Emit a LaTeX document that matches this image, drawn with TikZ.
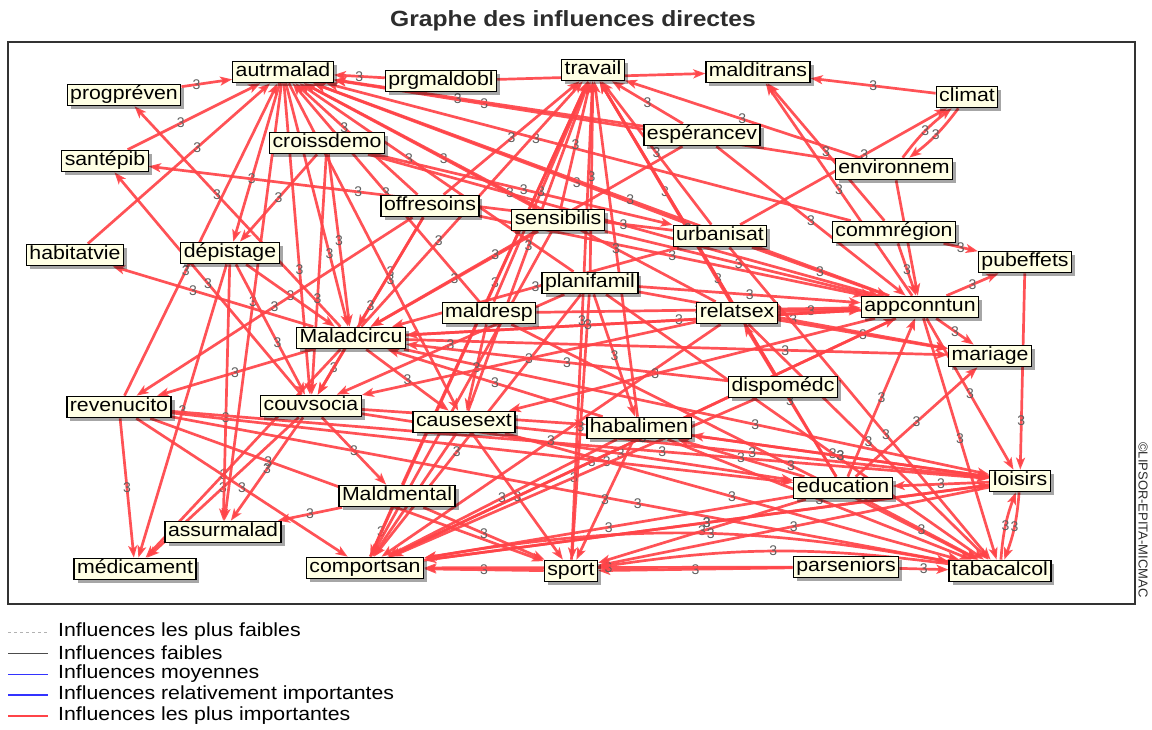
\documentclass[tikz,border=0pt]{standalone}
\usepackage{fontspec}
\setmainfont{Liberation Sans}
\usetikzlibrary{arrows.meta,shadows}
\pgfdeclarelayer{bg}
\pgfdeclarelayer{edges}
\pgfsetlayers{bg,edges,main}
\definecolor{edgered}{RGB}{255,68,72}
\definecolor{cream}{RGB}{255,255,228}
\definecolor{labgray}{RGB}{95,95,95}
\definecolor{titlegray}{RGB}{45,45,45}
\newcommand\lb[1]{\scalebox{1.12}[1]{#1}}
\newcommand\edg[3][0.5]{\draw[ed] (#2) -- node[lab,pos=#1]{3} (#3);}
\newcommand\edgb[4][0.5]{\draw[ed] (#2) to[bend left=#4] node[lab,pos=#1]{3} (#3);}
\tikzset{
  nd/.style={draw=black,line width=1.2pt,fill=cream,inner xsep=3pt,inner ysep=2pt,
    text height=13.5pt,text depth=4pt,font=\fontsize{19}{21}\selectfont,
    drop shadow={shadow xshift=3.5pt,shadow yshift=-3.5pt,fill=black,opacity=0.35}},
  ed/.style={draw=edgered,line width=2.7pt,-{Stealth[length=12pt,width=9pt,inset=3pt]},opacity=0.92},
  lab/.style={text=labgray,font=\fontsize{14}{15}\selectfont,inner sep=1pt,opacity=1},
  legtxt/.style={anchor=west,font=\fontsize{19}{21}\selectfont,text=black,inner sep=0pt}
}
\begin{document}
\begin{tikzpicture}[x=1pt,y=-1pt]
\useasboundingbox (0,0) rectangle (1152,729);
\begin{pgfonlayer}{bg}
\fill[white] (0,0) rectangle (1152,729);
\end{pgfonlayer}
\node[font=\bfseries\fontsize{22}{24}\selectfont,text=titlegray] (title) at (573,21) {\scalebox{1.12}[1]{Graphe des influences directes}};
\draw[line width=1.5pt,draw=black!80] (8,42) rectangle (1135,604);
\node[rotate=-90,font=\fontsize{13}{14}\selectfont,text=titlegray] (copy) at (1143,520) {©LIPSOR-EPITA-MICMAC};

% nodes
\node[nd] (autrmalad)  at (283,72)  {\lb{autrmalad}};
\node[nd] (prgmaldobl) at (441,81)  {\lb{prgmaldobl}};
\node[nd] (travail)    at (593,70)  {\lb{travail}};
\node[nd] (malditrans) at (758,72)  {\lb{malditrans}};
\node[nd] (climat)     at (967,97)  {\lb{climat}};
\node[nd] (progpreven) at (124,95)  {\lb{progpréven}};
\node[nd] (croissdemo) at (327,143) {\lb{croissdemo}};
\node[nd] (esperancev) at (702,135) {\lb{espérancev}};
\node[nd] (santepib)   at (105,161) {\lb{santépib}};
\node[nd] (environnem) at (894,169) {\lb{environnem}};
\node[nd] (offresoins) at (430,206) {\lb{offresoins}};
\node[nd] (sensibilis) at (558,220) {\lb{sensibilis}};
\node[nd] (urbanisat)  at (720,236) {\lb{urbanisat}};
\node[nd] (commregion) at (894,232) {\lb{commrégion}};
\node[nd] (habitatvie) at (75,255)  {\lb{habitatvie}};
\node[nd] (depistage)  at (230,253) {\lb{dépistage}};
\node[nd] (pubeffets)  at (1025,262) {\lb{pubeffets}};
\node[nd] (planifamil) at (590,283) {\lb{planifamil}};
\node[nd] (maldresp)   at (489,313) {\lb{maldresp}};
\node[nd] (relatsex)   at (737,313) {\lb{relatsex}};
\node[nd] (appconntun) at (920,307) {\lb{appconntun}};
\node[nd] (Maladcircu) at (351,338) {\lb{Maladcircu}};
\node[nd] (mariage)    at (990,356) {\lb{mariage}};
\node[nd] (dispomedc)  at (783,387) {\lb{dispomédc}};
\node[nd] (revenucito) at (119,407) {\lb{revenucito}};
\node[nd] (couvsocia)  at (311,406) {\lb{couvsocia}};
\node[nd] (causesext)  at (464,422) {\lb{causesext}};
\node[nd] (habalimen)  at (639,428) {\lb{habalimen}};
\node[nd] (Maldmental) at (397,496) {\lb{Maldmental}};
\node[nd] (education)  at (843,488) {\lb{education}};
\node[nd] (loisirs)    at (1020,481) {\lb{loisirs}};
\node[nd] (assurmalad) at (223,532) {\lb{assurmalad}};
\node[nd] (medicament) at (135,569) {\lb{médicament}};
\node[nd] (comportsan) at (365,568) {\lb{comportsan}};
\node[nd] (sport)      at (571,571) {\lb{sport}};
\node[nd] (parseniors) at (846,567) {\lb{parseniors}};
\node[nd] (tabacalcol) at (1000,571) {\lb{tabacalcol}};

\begin{pgfonlayer}{edges}
% into autrmalad
\edg[0.3]{progpreven}{autrmalad}
\edg{prgmaldobl}{autrmalad}
\edg[0.4]{santepib}{autrmalad}
\edg[0.6]{habitatvie}{autrmalad}
\edg[0.4]{revenucito}{autrmalad}
\edg[0.6]{offresoins}{autrmalad}
\edg[0.4]{sensibilis}{autrmalad}
\edg[0.3]{urbanisat}{autrmalad}
\edg[0.7]{environnem}{autrmalad}
\edg[0.6]{esperancev}{autrmalad}
\edg[0.45]{appconntun}{autrmalad}
\edg[0.5]{relatsex}{autrmalad}
\edg[0.6]{planifamil}{autrmalad}
\edg[0.5]{maldresp}{autrmalad}
\edg[0.6]{commregion}{autrmalad}
\edg[0.6]{autrmalad}{depistage}
\edg[0.7]{autrmalad}{Maladcircu}
\edg[0.6]{autrmalad}{couvsocia}
\edg[0.5]{autrmalad}{assurmalad}
\edg[0.6]{autrmalad}{causesext}
% left side
\edg[0.6]{Maladcircu}{progpreven}
\edg[0.5]{couvsocia}{santepib}
\edg[0.6]{urbanisat}{santepib}
\edg[0.6]{Maladcircu}{habitatvie}
\edg[0.5]{croissdemo}{depistage}
\edg[0.5]{depistage}{Maladcircu}
\edg[0.5]{croissdemo}{Maladcircu}
\edg[0.5]{offresoins}{Maladcircu}
\edg[0.6]{croissdemo}{couvsocia}
\edg[0.4]{Maladcircu}{couvsocia}
\edg[0.6]{depistage}{couvsocia}
\edg[0.5]{depistage}{medicament}
\edg[0.5]{revenucito}{medicament}
\edg[0.5]{couvsocia}{medicament}
\edg[0.6]{Maladcircu}{medicament}
\edg[0.5]{couvsocia}{assurmalad}
\edg[0.6]{depistage}{assurmalad}
\edg[0.5]{Maldmental}{assurmalad}
\edg[0.5]{revenucito}{comportsan}
\edg[0.5]{couvsocia}{Maldmental}
\edg[0.5]{Maldmental}{comportsan}
\edg[0.3]{revenucito}{sport}
\edg[0.6]{revenucito}{loisirs}
\edg[0.7]{revenucito}{education}
\edg[0.6]{revenucito}{tabacalcol}
\edg[0.5]{couvsocia}{habalimen}
\edg[0.6]{couvsocia}{education}
% centre
\edg[0.35]{Maladcircu}{travail}
\edg[0.6]{Maladcircu}{appconntun}
\edg[0.7]{Maladcircu}{mariage}
\edg[0.5]{Maladcircu}{causesext}
\edg[0.6]{Maladcircu}{loisirs}
\edg[0.5]{Maladcircu}{revenucito}
\edg[0.5]{offresoins}{travail}
\edg[0.5]{offresoins}{appconntun}
\edg[0.5]{offresoins}{couvsocia}
\edg[0.5]{offresoins}{revenucito}
\edg[0.5]{sensibilis}{travail}
\edg[0.5]{sensibilis}{appconntun}
\edg[0.5]{sensibilis}{Maladcircu}
\edg[0.6]{sensibilis}{comportsan}
\edg[0.5]{croissdemo}{appconntun}
\edg[0.5]{croissdemo}{urbanisat}
\edg[0.5]{maldresp}{travail}
\edg[0.5]{maldresp}{appconntun}
\edg[0.5]{maldresp}{causesext}
\edg[0.6]{maldresp}{tabacalcol}
\edg[0.5]{planifamil}{travail}
\edg[0.5]{planifamil}{appconntun}
\edg[0.5]{planifamil}{mariage}
\edg[0.5]{planifamil}{sport}
\edg[0.5]{planifamil}{habalimen}
\edg[0.6]{planifamil}{comportsan}
\edg[0.6]{planifamil}{tabacalcol}
\edg[0.5]{planifamil}{couvsocia}
\edg[0.5]{urbanisat}{travail}
\edg[0.5]{urbanisat}{appconntun}
\edg[0.6]{urbanisat}{climat}
\edg[0.5]{urbanisat}{Maladcircu}
\edg[0.6]{urbanisat}{tabacalcol}
\edg[0.5]{esperancev}{travail}
\edg[0.5]{esperancev}{appconntun}
\edg[0.6]{esperancev}{Maladcircu}
\edg[0.5]{environnem}{travail}
\edg[0.5]{environnem}{appconntun}
\edgb[0.5]{environnem}{climat}{8}
\edgb[0.5]{climat}{environnem}{8}
\edg[0.5]{climat}{malditrans}
\edg[0.5]{prgmaldobl}{malditrans}
\edg[0.5]{commregion}{appconntun}
\edg[0.5]{commregion}{pubeffets}
\edg[0.5]{commregion}{malditrans}
\edg[0.5]{appconntun}{malditrans}
\edg[0.5]{relatsex}{travail}
\edg[0.4]{relatsex}{appconntun}
\edg[0.5]{relatsex}{mariage}
\edg[0.5]{relatsex}{couvsocia}
\edg[0.5]{relatsex}{tabacalcol}
\edg[0.5]{relatsex}{comportsan}
\edg[0.5]{appconntun}{pubeffets}
\edg[0.5]{appconntun}{mariage}
\edg[0.5]{appconntun}{loisirs}
\edg[0.5]{appconntun}{tabacalcol}
\edg[0.6]{appconntun}{comportsan}
\edg[0.6]{appconntun}{causesext}
\edg[0.6]{appconntun}{Maladcircu}
\edg[0.75]{pubeffets}{loisirs}
\edg[0.5]{education}{appconntun}
\edg[0.5]{education}{mariage}
\edg[0.5]{education}{travail}
\edg[0.5]{education}{habalimen}
\edg[0.5]{education}{comportsan}
\edg[0.5]{education}{sport}
\edg[0.5]{education}{tabacalcol}
\edg[0.5]{education}{relatsex}
\edg[0.5]{dispomedc}{travail}
\edg[0.5]{dispomedc}{Maladcircu}
\edg[0.5]{dispomedc}{comportsan}
\edg[0.5]{causesext}{travail}
\edg[0.5]{causesext}{sport}
\edg[0.5]{causesext}{loisirs}
\edg[0.5]{causesext}{comportsan}
\edg[0.5]{causesext}{tabacalcol}
\edg[0.5]{habalimen}{travail}
\edg[0.5]{habalimen}{sport}
\edg[0.5]{habalimen}{comportsan}
\edg[0.5]{habalimen}{tabacalcol}
\edg[0.5]{habalimen}{loisirs}
\edg[0.5]{habalimen}{Maladcircu}
\edg[0.5]{loisirs}{habalimen}
\edg[0.5]{loisirs}{comportsan}
\edg[0.5]{loisirs}{sport}
\edg[0.5]{loisirs}{education}
\edgb[0.5]{loisirs}{tabacalcol}{8}
\edgb[0.5]{tabacalcol}{loisirs}{8}
\edg[0.5]{sport}{travail}
\edg[0.5]{sport}{comportsan}
\edg[0.5]{parseniors}{sport}
\edg[0.5]{parseniors}{comportsan}
\edg[0.5]{parseniors}{tabacalcol}
\edgb[0.5]{tabacalcol}{sport}{-8}
\edgb[0.45]{tabacalcol}{comportsan}{-10}
\edg[0.5]{Maldmental}{sport}
\edg[0.5]{Maldmental}{travail}
\edg[0.5]{comportsan}{travail}
\edg[0.5]{comportsan}{appconntun}
\edg[0.5]{comportsan}{loisirs}
\end{pgfonlayer}

% legend
\coordinate (l1a) at (8,632);  \coordinate (l1b) at (48,632);
\coordinate (l2a) at (8,653);  \coordinate (l2b) at (48,653);
\coordinate (l3a) at (8,674);  \coordinate (l3b) at (48,674);
\coordinate (l4a) at (8,695);  \coordinate (l4b) at (48,695);
\coordinate (l5a) at (8,716);  \coordinate (l5b) at (48,716);
\draw[black!30,line width=0.8pt,dash pattern=on 3pt off 3pt] (l1a) -- (l1b);
\draw[black!70,line width=1pt] (l2a) -- (l2b);
\draw[blue!80,line width=1pt] (l3a) -- (l3b);
\draw[blue!80,line width=2.2pt] (l4a) -- (l4b);
\draw[edgered,line width=2.5pt] (l5a) -- (l5b);
\node[legtxt] (t1) at (58,632) {\lb{Influences les plus faibles}};
\node[legtxt] (t2) at (58,653) {\lb{Influences faibles}};
\node[legtxt] (t3) at (58,674) {\lb{Influences moyennes}};
\node[legtxt] (t4) at (58,695) {\lb{Influences relativement importantes}};
\node[legtxt] (t5) at (58,716) {\lb{Influences les plus importantes}};
\end{tikzpicture}
\end{document}
